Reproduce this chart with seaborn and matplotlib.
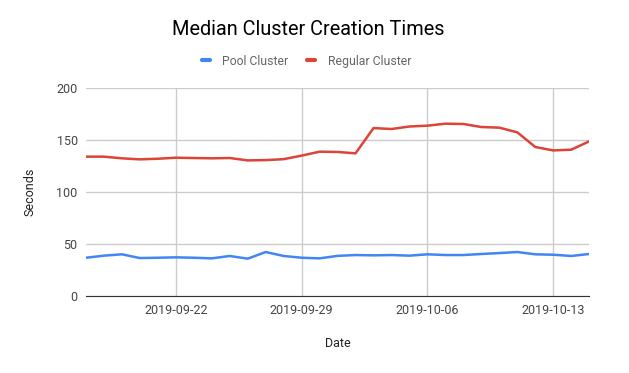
import numpy as np
import pandas as pd
import matplotlib
matplotlib.use("Agg")
import matplotlib.pyplot as plt
import matplotlib.dates as mdates
from matplotlib.lines import Line2D
import seaborn as sns

dates = pd.date_range("2019-09-17", "2019-10-15", freq="D")
pool = [36.8, 38.8, 40.1, 36.5, 36.8, 37.2, 36.8, 36.2, 38.5, 35.9,
        42.3, 38.5, 36.8, 36.2, 38.6, 39.4, 39.1, 39.4, 38.8, 40.1,
        39.4, 39.4, 40.4, 41.3, 42.3, 40.1, 39.7, 38.5, 40.4]
regular = [134.0, 134.0, 132.4, 131.4, 132.0, 133.0, 132.7, 132.4, 132.7, 130.4,
           130.7, 131.6, 135.0, 138.8, 138.5, 137.2, 161.5, 160.6, 163.0, 163.8,
           165.7, 165.4, 162.5, 161.9, 157.4, 143.3, 140.0, 140.7, 148.7]

df = pd.DataFrame({"Date": dates, "Pool Cluster": pool, "Regular Cluster": regular})
long_df = df.melt(id_vars="Date", var_name="series", value_name="Seconds")

sns.set_style("white")
plt.rcParams["font.family"] = ["Roboto", "DejaVu Sans"]

fig = plt.figure(figsize=(6.29, 3.73), dpi=100)
ax = fig.add_axes([0.1367, 0.2064, 0.8, 0.5576])

sns.lineplot(data=long_df, x="Date", y="Seconds", hue="series",
             palette=["#4285F4", "#DB4437"], linewidth=1.8, ax=ax, legend=False)

ax.set_xlim(dates[0], dates[-1])
ax.set_ylim(0, 200)
ax.set_yticks([0, 50, 100, 150, 200])
ax.xaxis.set_major_locator(mdates.DayLocator(bymonthday=[22, 29, 6, 13]))
ax.xaxis.set_major_formatter(mdates.DateFormatter("%Y-%m-%d"))
ax.grid(True, color="#cccccc", linewidth=1)
ax.set_axisbelow(True)
for s in ["top", "right", "left"]:
    ax.spines[s].set_visible(False)
ax.spines["bottom"].set_color("#333333")
ax.tick_params(axis="both", length=0, labelsize=9, labelcolor="#444444", pad=6)
ax.set_xlabel("Date", fontsize=9, color="#222222", labelpad=14)
ax.set_ylabel("Seconds", fontsize=9, color="#222222", labelpad=14)

fig.text(0.49, 0.92, "Median Cluster Creation Times", ha="center", va="center",
         fontsize=14.3, color="#000000")

handles = [Line2D([], [], color="#4285F4", lw=3), Line2D([], [], color="#DB4437", lw=3)]
fig.legend(handles, ["Pool Cluster", "Regular Cluster"], loc="center",
           bbox_to_anchor=(0.487, 0.836), ncol=2, frameon=False, fontsize=8.8,
           handlelength=0.7, handletextpad=1.0, columnspacing=1.5,
           labelcolor="#666666")

fig.savefig("out.png", dpi=100)
